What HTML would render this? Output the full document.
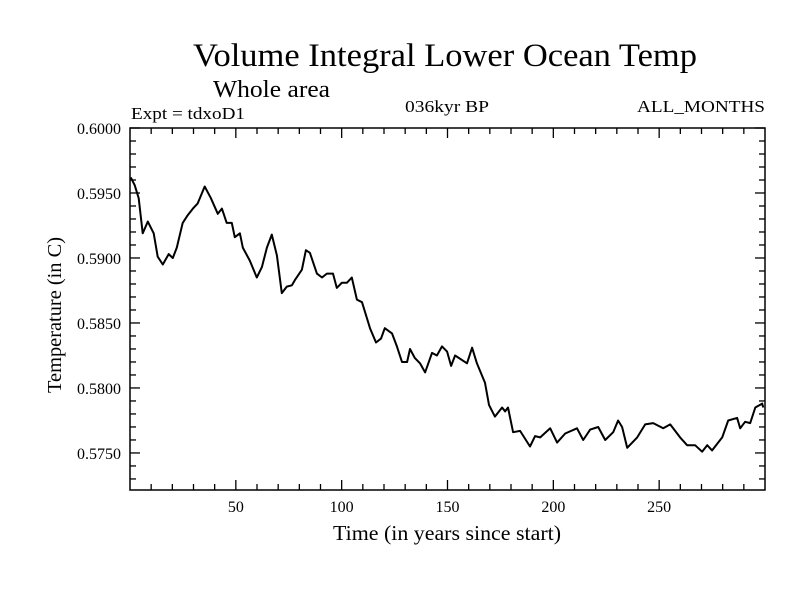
<!DOCTYPE html>
<html><head><meta charset="utf-8"><style>
body{margin:0;background:#fff;width:800px;height:600px;overflow:hidden}
svg text{font-family:"Liberation Serif",serif;fill:#000}
</style></head><body>
<svg id="chart" width="800" height="600">
<text x="193" y="66" font-size="33" textLength="504" lengthAdjust="spacingAndGlyphs">Volume Integral Lower Ocean Temp</text>
<text x="213" y="97" font-size="24" textLength="117" lengthAdjust="spacingAndGlyphs">Whole area</text>
<text x="131" y="119" font-size="17" textLength="114" lengthAdjust="spacingAndGlyphs">Expt = tdxoD1</text>
<text x="405" y="112" font-size="17" textLength="84" lengthAdjust="spacingAndGlyphs">036kyr BP</text>
<text x="637" y="112" font-size="17" textLength="128" lengthAdjust="spacingAndGlyphs">ALL_MONTHS</text>
<text transform="translate(61,393) rotate(-90)" font-size="20" textLength="156" lengthAdjust="spacingAndGlyphs">Temperature (in C)</text>
<text x="333" y="540" font-size="21" textLength="228" lengthAdjust="spacingAndGlyphs">Time (in years since start)</text>
<g id="axes"></g>
<rect x="130" y="128" width="635" height="362" fill="none" stroke="#000" stroke-width="1.5"/>
<path id="line" fill="none" stroke="#000" stroke-width="2" stroke-linejoin="round"/>
</svg>
<script>
const years=[0.4,2.2,4.1,6.0,8.4,11.2,13.1,15.5,18.3,20.2,22.1,24.9,27.3,29.7,32.0,35.3,38.2,41.5,43.4,45.7,48.1,49.5,51.9,53.3,56.6,59.9,62.3,64.7,67.0,69.4,71.7,74.1,76.5,77.9,81.2,83.1,85.0,88.3,90.7,93.0,95.9,97.7,100.1,102.5,104.8,107.2,109.6,113.4,116.2,118.6,120.4,123.8,126.1,128.5,130.9,132.3,134.6,137.0,139.4,142.7,145.0,147.4,149.8,151.7,153.6,159.2,161.6,163.9,167.7,169.6,172.4,175.8,177.2,178.6,181.0,184.3,189.0,191.4,193.8,198.5,201.8,205.6,211.2,214.1,217.4,221.2,224.5,228.3,230.6,232.5,234.9,239.6,243.4,247.2,251.9,255.2,259.9,263.2,267.0,270.3,272.7,275.0,279.8,282.6,286.8,288.3,290.6,293.0,295.4,298.7,299.2];
const temps=[0.5962,0.5956,0.5946,0.5919,0.5928,0.5919,0.5901,0.5895,0.5903,0.5900,0.5908,0.5927,0.5933,0.5938,0.5942,0.5955,0.5946,0.5934,0.5938,0.5927,0.5927,0.5916,0.5919,0.5908,0.5898,0.5885,0.5893,0.5908,0.5918,0.5902,0.5873,0.5878,0.5879,0.5883,0.5891,0.5906,0.5904,0.5888,0.5885,0.5888,0.5888,0.5877,0.5881,0.5881,0.5885,0.5868,0.5866,0.5846,0.5835,0.5838,0.5846,0.5842,0.5832,0.5820,0.5820,0.5830,0.5823,0.5819,0.5812,0.5827,0.5825,0.5832,0.5828,0.5817,0.5825,0.5819,0.5831,0.5819,0.5804,0.5787,0.5778,0.5785,0.5782,0.5785,0.5766,0.5767,0.5755,0.5763,0.5762,0.5769,0.5758,0.5765,0.5769,0.5760,0.5768,0.5770,0.5760,0.5766,0.5775,0.5770,0.5754,0.5762,0.5772,0.5773,0.5769,0.5772,0.5762,0.5756,0.5756,0.5751,0.5756,0.5752,0.5762,0.5775,0.5777,0.5769,0.5774,0.5773,0.5785,0.5788,0.5785];
const xTicks=[50,100,150,200,250];
const yTicks=[0.5750,0.5800,0.5850,0.5900,0.5950,0.6000];
const X0=130,X1=765,Y0=490,Y1=128,XMIN=0,XMAX=300,YMIN=0.57215,YMAX=0.6;
function sx(v){return X0+(v-XMIN)/(XMAX-XMIN)*(X1-X0);}
function sy(v){return Y0-(v-YMIN)/(YMAX-YMIN)*(Y0-Y1);}
const NS='http://www.w3.org/2000/svg';
const g=document.getElementById('axes');
function ln(x1,y1,x2,y2,name){const l=document.createElementNS(NS,'line');l.setAttribute('x1',x1);l.setAttribute('y1',y1);l.setAttribute('x2',x2);l.setAttribute('y2',y2);l.setAttribute('stroke','#000');l.setAttribute('stroke-width','1.3');


g.appendChild(l);}
function tx(x,y,s,anchor,name){const t=document.createElementNS(NS,'text');t.setAttribute('x',x);t.setAttribute('y',y);t.setAttribute('font-size','16');t.setAttribute('text-anchor',anchor);t.textContent=s;


g.appendChild(t);}
for(let v=10;v<300;v+=10){const x=sx(v);const L=(v%50===0)?10:6;ln(x,Y0,x,Y0-L,'x-tick');ln(x,Y1,x,Y1+L,'x-tick-top');}
xTicks.forEach(v=>tx(sx(v),512,String(v),'middle','x-tick-label'));
for(let i=Math.ceil(YMIN/0.001);i<=600;i++){const v=i*0.001;const y=sy(v);const L=(i%5===0)?10:6;ln(X0,y,X0+L,y,'y-tick');ln(X1,y,X1-L,y,'y-tick-right');}
yTicks.forEach(v=>tx(121,sy(v)+6,v.toFixed(4),'end','y-tick-label'));
let d='';years.forEach((v,i)=>{d+=(i?'L':'M')+sx(v).toFixed(1)+','+sy(temps[i]).toFixed(1);});
document.getElementById('line').setAttribute('d',d);
</script>
</body></html>
